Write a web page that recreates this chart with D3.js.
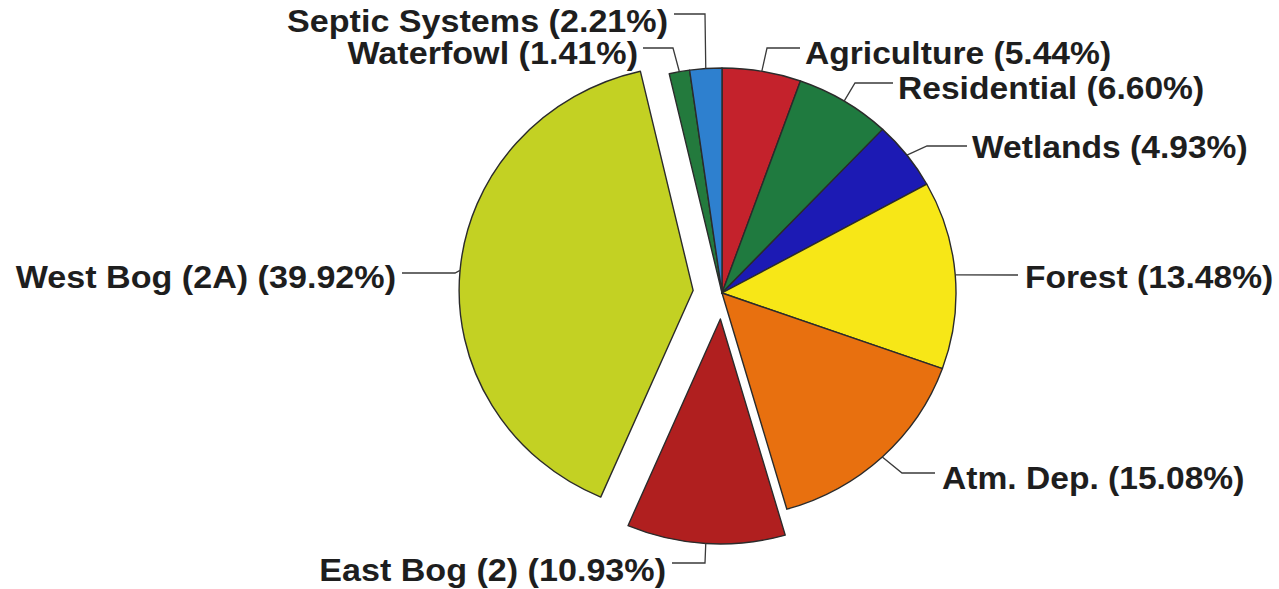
<!DOCTYPE html>
<html>
<head>
<meta charset="utf-8">
<script src="https://cdn.jsdelivr.net/npm/d3@7"></script>
<style>
  html, body { margin: 0; padding: 0; background: #fff; }
  svg { display: block; }
</style>
</head>
<body>
<svg id="chart" width="1279" height="589"></svg>
<script>
// ---- data ----
const categories = ["Agriculture", "Residential", "Wetlands", "Forest", "Atm. Dep.",
                    "East Bog (2)", "West Bog (2A)", "Waterfowl", "Septic Systems"];
const values = [5.44, 6.60, 4.93, 13.48, 15.08, 10.93, 39.92, 1.41, 2.21];

// ---- styles / layout ----
const colors = ["#c4222c", "#1f7a3f", "#1c1ab4", "#f7e717", "#e8700f",
                "#b01f1f", "#c3d123", "#237a3d", "#2e80cf"];
const explode = [0, 0, 0, 0, 0, 26, 29, 0, 0];
const cx = 722, cy = 293, rx = 234, ry = 225;
const fontSize = 32, stretchRight = 1.05, stretchLeft = 1.066;
// label layout: text anchor x, baseline y, anchor, elbow point, line end point
const labelLayout = [
  { tx: 805,  ty: 64,  anchor: "start", elbow: [767, 48],  end: [800, 48] },
  { tx: 898,  ty: 99,  anchor: "start", elbow: [855, 83],  end: [893, 83] },
  { tx: 972,  ty: 158, anchor: "start", elbow: [927, 146], end: [967, 146] },
  { tx: 1025, ty: 288, anchor: "start", elbow: null,       end: [1018, 275] },
  { tx: 942,  ty: 489, anchor: "start", elbow: [902, 473], end: [935, 473] },
  { tx: 666,  ty: 581, anchor: "end",   elbow: [705, 563], end: [672, 563] },
  { tx: 396,  ty: 288, anchor: "end",   elbow: [455, 273], end: [402, 273] },
  { tx: 638,  ty: 64,  anchor: "end",   elbow: [673, 48],  end: [643, 48] },
  { tx: 668,  ty: 32,  anchor: "end",   elbow: [705, 14],  end: [674, 14] }
];

const svg = d3.select("#chart");
const pie = d3.pie().sort(null).value(d => d);
const arcs = pie(values);
const arc = d3.arc().innerRadius(0).outerRadius(ry);

const slices = svg.append("g");
arcs.forEach((a, i) => {
  const mid = (a.startAngle + a.endAngle) / 2;
  const ox = explode[i] * Math.sin(mid), oy = -explode[i] * Math.cos(mid);
  a.ox = ox; a.oy = oy; a.mid = mid;
  slices.append("path")
    .attr("d", arc(a))
    .attr("transform", `translate(${cx + ox},${cy + oy}) scale(${rx / ry},1)`)
    .attr("fill", colors[i])
    .attr("stroke", "#2b2b2b")
    .attr("stroke-width", 1.4)
    .attr("vector-effect", "non-scaling-stroke")
    .attr("stroke-linejoin", "round");
});

// leaders and labels
const lines = svg.append("g");
const labels = svg.append("g");
arcs.forEach((a, i) => {
  const L = labelLayout[i];
  const p0 = [cx + a.ox + rx * Math.sin(a.mid), cy + a.oy - ry * Math.cos(a.mid)];
  const pts = [p0];
  if (L.elbow) pts.push(L.elbow);
  pts.push(L.end);
  lines.append("path")
    .attr("d", d3.line()(pts))
    .attr("fill", "none")
    .attr("stroke", "#3a3a3a")
    .attr("stroke-width", 1.3);
  const s = L.anchor === "end" ? stretchLeft : stretchRight;
  labels.append("text")
    .attr("transform", `translate(${L.tx},${L.ty}) scale(${s},1)`)
    .attr("text-anchor", L.anchor)
    .attr("font-family", "'Liberation Sans', Arial, sans-serif")
    .attr("font-weight", "bold")
    .attr("font-size", fontSize)
    .attr("fill", "#1e1e1e")
    .text(`${categories[i]} (${values[i].toFixed(2)}%)`);
});
</script>
</body>
</html>
